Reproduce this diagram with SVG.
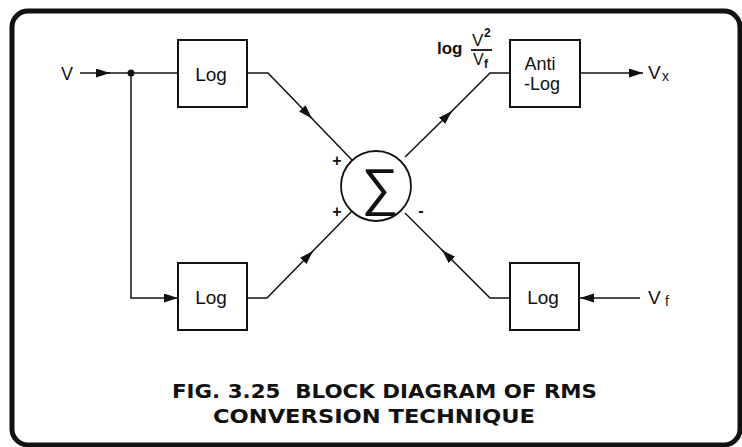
<svg xmlns="http://www.w3.org/2000/svg" width="742" height="447" viewBox="0 0 742 447">
<style>
.box{fill:#fff;stroke:#111;stroke-width:2}
.ln{fill:none;stroke:#111;stroke-width:1.5}
.t{font-family:"Liberation Sans",Arial,sans-serif;fill:#111}
.cap{font-family:"DejaVu Sans","Liberation Sans",sans-serif;font-weight:bold;font-size:20px;fill:#111;white-space:pre}
</style>
<defs>
<marker id="ah" markerUnits="userSpaceOnUse" markerWidth="16" markerHeight="10" refX="14" refY="4.5" orient="auto">
<path d="M0,0 L14,4.5 L0,9 z" fill="#111"/>
</marker>
</defs>
<rect x="12" y="11" width="728" height="434" rx="16" fill="#fff" stroke="#111" stroke-width="5"/>
<g id="connectors">
<path class="ln" d="M80,73 L110,73" marker-end="url(#ah)"/>
<path class="ln" d="M108,73 L178,73"/>
<circle cx="131" cy="73" r="3.5" fill="#111"/>
<path class="ln" d="M131,73 L131,298 L178,298" marker-end="url(#ah)"/>
<path class="ln" d="M247,73 L268,73 L312,118.5" marker-end="url(#ah)"/>
<path class="ln" d="M310,116.5 L352,160"/>
<path class="ln" d="M247,298 L267,298 L313,251" marker-end="url(#ah)"/>
<path class="ln" d="M311,253 L352,211"/>
<path class="ln" d="M405,157 L452,111" marker-end="url(#ah)"/>
<path class="ln" d="M450,113 L490,73 L510,73"/>
<path class="ln" d="M510,298 L490,298 L442,250" marker-end="url(#ah)"/>
<path class="ln" d="M444,252 L405,213"/>
<path class="ln" d="M580,73 L643,73" marker-end="url(#ah)"/>
<path class="ln" d="M640,298 L580,298" marker-end="url(#ah)"/>
</g>
<g id="in-v"><text class="t" x="61" y="80" font-size="18">V</text></g>
<g id="log1"><rect class="box" x="178" y="40" width="69" height="67"/><text class="t" x="211" y="81" font-size="19" text-anchor="middle">Log</text></g>
<g id="log2"><rect class="box" x="178" y="263" width="69" height="67"/><text class="t" x="211" y="304" font-size="19" text-anchor="middle">Log</text></g>
<g id="log3"><rect class="box" x="510" y="263" width="69" height="67"/><text class="t" x="543" y="304" font-size="19" text-anchor="middle">Log</text></g>
<g id="antilog"><rect class="box" x="510" y="40" width="70" height="67"/><text class="t" x="540" y="70" font-size="18" text-anchor="middle">Anti</text><text class="t" x="542" y="90" font-size="18" text-anchor="middle">-Log</text></g>
<g id="sum">
<circle cx="376" cy="186" r="35" fill="#fff" stroke="#111" stroke-width="1.8"/>
<text class="t" x="380" y="205" font-size="52" text-anchor="middle">∑</text>
<text class="t" x="337" y="166" font-size="16" font-weight="bold" text-anchor="middle">+</text>
<text class="t" x="337" y="217" font-size="16" font-weight="bold" text-anchor="middle">+</text>
<text class="t" x="421" y="216" font-size="16" font-weight="bold" text-anchor="middle">-</text>
</g>
<g id="lbl-log">
<text class="t" x="437" y="54" font-size="17" font-weight="bold">log</text>
<text class="t" x="472" y="46" font-size="17">V</text><text class="t" x="484" y="37" font-size="12" font-weight="bold">2</text>
<line x1="471" y1="50" x2="492" y2="50" stroke="#111" stroke-width="1.8"/>
<text class="t" x="473" y="65" font-size="16">V</text><text class="t" x="484" y="68" font-size="12" font-weight="bold">f</text>
</g>
<g id="out-vx"><text class="t" x="648" y="79" font-size="19">V</text><text class="t" x="662" y="81" font-size="14">x</text></g>
<g id="in-vf"><text class="t" x="648" y="304" font-size="19">V</text><text class="t" x="665" y="306" font-size="14">f</text></g>
<g id="caption">
<text class="cap" x="384.5" y="398" text-anchor="middle" textLength="425" lengthAdjust="spacingAndGlyphs" xml:space="preserve">FIG. 3.25  BLOCK DIAGRAM OF RMS</text>
<text class="cap" x="374" y="423" text-anchor="middle" textLength="322" lengthAdjust="spacingAndGlyphs">CONVERSION TECHNIQUE</text>
</g>
</svg>
